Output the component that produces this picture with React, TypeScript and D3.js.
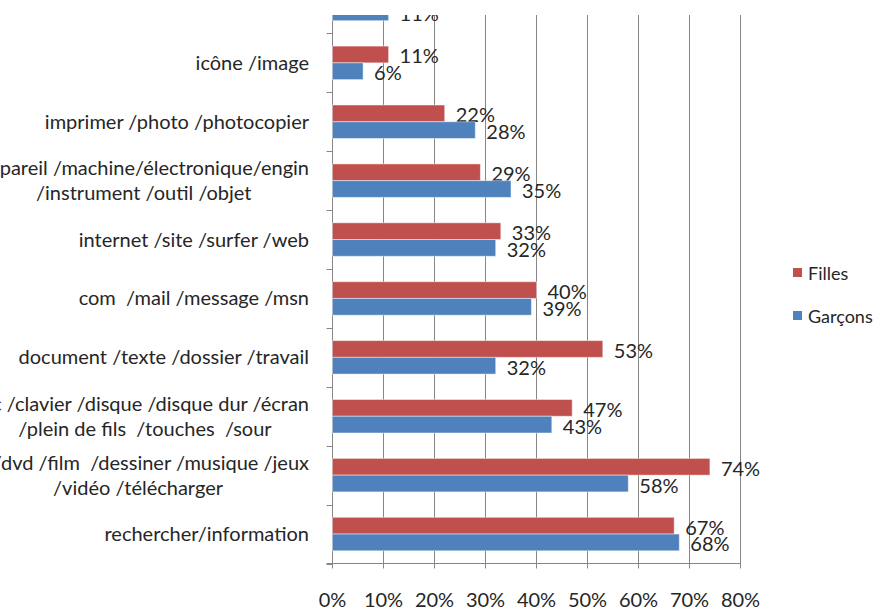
import * as d3 from "d3";
import React, { RefObject, useEffect, useRef } from "react";

// categories, top to bottom (first one is cut off by the crop of the original)
const categories = [
  "",
  "icône /image",
  "imprimer /photo /photocopier",
  "appareil /machine/électronique/engin\n/instrument /outil /objet",
  "internet /site /surfer /web",
  "com  /mail /message /msn",
  "document /texte /dossier /travail",
  "pc /clavier /disque /disque dur /écran\n/plein de fils  /touches  /sour",
  "cd /dvd /film  /dessiner /musique /jeux\n/vidéo /télécharger",
  "rechercher/information",
];
const filles: (number | null)[] = [null, 11, 22, 29, 33, 40, 53, 47, 74, 67];
const garcons: (number | null)[] = [11, 6, 28, 35, 32, 39, 32, 43, 58, 68];
const xTicks = [0, 10, 20, 30, 40, 50, 60, 70, 80];
const seriesNames = ["Filles", "Garçons"];
const seriesColors = ["#C0504D", "#4F81BD"];

const W = 881;
const H = 610;
const FONT = "Lato, 'Open Sans', sans-serif";

const App = () => {
  const ref: RefObject<HTMLDivElement> = useRef(null);

  useEffect(() => {
    document.body.style.margin = "0";
    const root = d3.select(ref.current);
    root.selectAll("*").remove();
    const svg = root
      .append("svg")
      .attr("width", W)
      .attr("height", H)
      .style("display", "block")
      .style("background", "#fff");

    const plotLeft = 332.5;
    const plotRight = 740.5;
    const plotTop = 15;
    const plotBottom = 563.5;
    const step = 58.9;

    const x = d3.scaleLinear().domain([0, 80]).range([plotLeft, plotRight]);
    const y = d3
      .scaleBand<number>()
      .domain(d3.range(categories.length))
      .range([plotBottom - step * categories.length, plotBottom]);
    const sub = d3
      .scaleBand<string>()
      .domain(seriesNames)
      .range([0, y.bandwidth()])
      .paddingOuter(0.76);

    svg
      .append("defs")
      .append("clipPath")
      .attr("id", "crop")
      .append("rect")
      .attr("x", 0)
      .attr("y", plotTop)
      .attr("width", W)
      .attr("height", H - plotTop);

    const g = svg.append("g").attr("clip-path", "url(#crop)");

    // grid
    g.append("g")
      .selectAll("line")
      .data(xTicks)
      .enter()
      .append("line")
      .attr("x1", (d) => x(d))
      .attr("x2", (d) => x(d))
      .attr("y1", plotTop)
      .attr("y2", plotBottom + 5)
      .attr("stroke", "#868686")
      .attr("stroke-width", 1);

    // left axis ticks at band boundaries
    const bounds = d3.range(categories.length + 1).map((i) => y.range()[0] + i * y.step());
    g.append("g")
      .selectAll("line")
      .data(bounds)
      .enter()
      .append("line")
      .attr("x1", plotLeft - 6)
      .attr("x2", plotLeft)
      .attr("y1", (d) => Math.round(d) + 0.5)
      .attr("y2", (d) => Math.round(d) + 0.5)
      .attr("stroke", "#868686");
    g.append("line")
      .attr("x1", plotLeft - 6)
      .attr("x2", plotRight)
      .attr("y1", plotBottom)
      .attr("y2", plotBottom)
      .attr("stroke", "#868686");

    // bars
    const series = [filles, garcons];
    series.forEach((vals, si) => {
      const name = seriesNames[si];
      const rows = vals
        .map((v, i) => ({ v, i }))
        .filter((d) => d.v !== null) as { v: number; i: number }[];
      g.append("g")
        .selectAll("rect")
        .data(rows)
        .enter()
        .append("rect")
        .attr("x", x(0))
        .attr("y", (d) => (y(d.i) as number) + (sub(name) as number))
        .attr("width", (d) => x(d.v) - x(0))
        .attr("height", sub.bandwidth())
        .attr("fill", seriesColors[si])
        .attr("stroke", "rgba(255,255,255,0.45)")
        .attr("stroke-width", 1);

      g.append("g")
        .selectAll("text")
        .data(rows)
        .enter()
        .append("text")
        .attr("x", (d) => x(d.v) + 11)
        .attr("y", (d) => (y(d.i) as number) + (sub(name) as number) + sub.bandwidth() / 2 + 1)
        .attr("dominant-baseline", "central")
        .attr("font-family", FONT)
        .attr("font-size", 20)
        .attr("fill", "#262626")
        .text((d) => d.v + "%");
    });

    // category labels
    const labelRight = 309;
    const lineH = 25;
    categories.forEach((c, i) => {
      if (!c) return;
      const lines = c.split("\n");
      const cy = (y(i) as number) + y.bandwidth() / 2 - 1;
      const t = g
        .append("text")
        .attr("font-family", FONT)
        .attr("font-size", 20)
        .attr("fill", "#262626")
        .attr("text-anchor", "middle")
        .style("white-space", "pre");
      const spans = lines.map((l, k) =>
        t
          .append("tspan")
          .attr("y", cy + (k - (lines.length - 1) / 2) * lineH)
          .attr("dominant-baseline", "central")
          .text(l)
      );
      const maxW = d3.max(spans, (s) => (s.node() as SVGTSpanElement).getComputedTextLength()) || 0;
      spans.forEach((s) => s.attr("x", labelRight - maxW / 2));
    });

    // x axis labels
    g.append("g")
      .selectAll("text")
      .data(xTicks)
      .enter()
      .append("text")
      .attr("x", (d) => x(d))
      .attr("y", 599)
      .attr("text-anchor", "middle")
      .attr("dominant-baseline", "central")
      .attr("font-family", FONT)
      .attr("font-size", 20)
      .attr("fill", "#262626")
      .text((d) => d + "%");

    // legend
    const legend = svg.append("g").attr("transform", "translate(793,0)");
    seriesNames.forEach((n, i) => {
      const ly = i === 0 ? 273 : 316;
      legend
        .append("rect")
        .attr("x", 0)
        .attr("y", ly - 5)
        .attr("width", 9)
        .attr("height", 9)
        .attr("fill", seriesColors[i]);
      legend
        .append("text")
        .attr("x", 15)
        .attr("y", ly)
        .attr("dominant-baseline", "central")
        .attr("font-family", FONT)
        .attr("font-size", 18)
        .attr("fill", "#262626")
        .text(n);
    });
  }, [ref]);

  return <div ref={ref} />;
};

export default App;
